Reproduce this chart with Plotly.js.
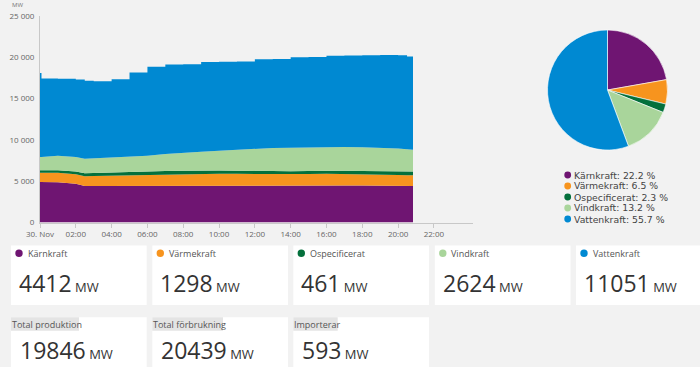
<!DOCTYPE html>
<html><head><meta charset="utf-8">
<script src="https://cdn.plot.ly/plotly-3.0.1.min.js"></script>
<style>html,body{margin:0;padding:0;background:#f2f2f2;}#chart{width:700px;height:367px;}</style>
</head><body><div id="chart"></div>
<script>
// ---- data ----
const day = '2023-11-30';
const times = ['00:00','00:05','01:00','02:00','02:30','03:00','04:00','05:00','06:00','07:00','08:00','09:00','10:00','11:00','12:00','13:00','14:00','15:00','16:00','17:00','18:00','19:00','20:00','20:30','20:50'];
const karnkraft   = [4890,4890,4880,4680,4420,4420,4430,4440,4450,4470,4480,4490,4490,4490,4490,4480,4480,4480,4480,4480,4470,4460,4450,4430,4412];
const varmekraft  = [1140,1140,1150,1170,1190,1200,1230,1290,1340,1370,1400,1420,1420,1400,1370,1350,1340,1380,1420,1400,1370,1350,1300,1290,1298];
const ospecificerat=[290,290,300,320,350,360,360,370,380,390,400,400,400,390,380,370,370,380,400,390,380,380,420,440,461];
const vindkraft   = [1610,1610,1750,1760,1750,1770,1800,1830,1900,2050,2170,2260,2380,2550,2700,2830,2860,2860,2840,2870,2880,2870,2790,2700,2624];
const vattenkraft = [10170,9510,9320,9370,9440,9350,9530,10240,10780,10860,10710,10850,10760,10650,10810,10750,10950,10950,11060,11090,11160,11220,11290,11240,11051];
const totalForbrukning = 20439;

const seriesNames = ['Kärnkraft','Värmekraft','Ospecificerat','Vindkraft','Vattenkraft'];
const seriesColors = ['#6f1572','#f7941e','#04703c','#a9d59b','#0089d2'];
const seriesData = [karnkraft, varmekraft, ospecificerat, vindkraft, vattenkraft];

const tickTimes = ['00:00','02:00','04:00','06:00','08:00','10:00','12:00','14:00','16:00','18:00','20:00','22:00'];
const tickLabels = ['30. Nov','02:00','04:00','06:00','08:00','10:00','12:00','14:00','16:00','18:00','20:00','22:00'];

// ---- helpers ----
const W = 700, H = 367;
const X = p => p / W;
const Y = p => (H - p) / H;

const xDates = times.map(t => day + ' ' + t);
const latest = seriesData.map(s => s[s.length - 1]);
const totalProd = latest.reduce((a, b) => a + b, 0);
const importerar = totalForbrukning - totalProd;

const traces = seriesData.map((s, i) => ({
  type: 'scatter', mode: 'lines', x: xDates, y: s, stackgroup: 'one',
  name: seriesNames[i], fillcolor: seriesColors[i],
  line: {width: 0, color: seriesColors[i], shape: i === 4 ? 'hv' : 'linear'},
  hoverinfo: 'skip', showlegend: false
}));

traces.push({
  type: 'pie', values: latest, labels: seriesNames, sort: false, direction: 'clockwise', rotation: 0,
  marker: {colors: seriesColors, line: {color: '#ffffff', width: 0.6}},
  textinfo: 'none', hoverinfo: 'skip', showlegend: false,
  domain: {x: [X(547.5), X(667.5)], y: [Y(150), Y(30)]}
});

const annotations = [];
const shapes = [];

annotations.push({xref:'paper', yref:'paper', x:X(17), y:Y(5), text:'MW', showarrow:false,
  font:{family:'Open Sans', size:6, color:'#777'}, xanchor:'center', yanchor:'middle'});

// pie legend
const legY = [175, 186, 197, 208, 219];
seriesNames.forEach((n, i) => {
  const pct = (latest[i] / totalProd * 100).toFixed(1);
  shapes.push({type:'circle', xref:'paper', yref:'paper', x0:X(564.3), x1:X(571.1), y0:Y(legY[i] + 3.4), y1:Y(legY[i] - 3.4),
    fillcolor:seriesColors[i], line:{width:0}});
  annotations.push({xref:'paper', yref:'paper', x:X(571.8), y:Y(legY[i]), xanchor:'left', yanchor:'middle', showarrow:false,
    text:n + ': ' + pct + ' %',
    font:{family:'DejaVu Sans', size:9.3, color:'#444'}});
});

// cards row 1
const row1X = [11, 152.3, 293.3, 434.8, 576];
const cardW = 135.7;
row1X.forEach((x0, i) => {
  shapes.push({type:'rect', xref:'paper', yref:'paper', x0:X(x0), x1:X(x0 + cardW), y0:Y(305), y1:Y(245.5),
    fillcolor:'#ffffff', line:{width:0}, layer:'below'});
  shapes.push({type:'circle', xref:'paper', yref:'paper', x0:X(x0 + 4.3), x1:X(x0 + 11.7), y0:Y(257), y1:Y(249.6),
    fillcolor:seriesColors[i], line:{width:0}});
  annotations.push({xref:'paper', yref:'paper', x:X(x0 + 14.5), y:Y(253.3), xanchor:'left', yanchor:'middle', showarrow:false,
    text:seriesNames[i], font:{family:'Open Sans', size:9, color:'#555'}});
  annotations.push({xref:'paper', yref:'paper', x:X(x0 + 6), y:Y(283), xanchor:'left', yanchor:'middle', showarrow:false,
    text:latest[i] + '<span style="font-size:13px"> MW</span>', font:{family:'Open Sans', size:23, color:'#333'}});
});

// cards row 2
const row2X = [11, 152.3, 293.3];
const row2Labels = ['Total produktion', 'Total förbrukning', 'Importerar'];
const row2Values = [totalProd, totalForbrukning, importerar];
const row2LabelW = [68, 70.7, 44.4];
row2X.forEach((x0, i) => {
  shapes.push({type:'rect', xref:'paper', yref:'paper', x0:X(x0), x1:X(x0 + cardW), y0:Y(375), y1:Y(317.3),
    fillcolor:'#ffffff', line:{width:0}, layer:'below'});
  shapes.push({type:'rect', xref:'paper', yref:'paper', x0:X(x0), x1:X(x0 + row2LabelW[i]), y0:Y(330.7), y1:Y(317.3),
    fillcolor:'#e4e4e4', line:{width:0}, layer:'below'});
  annotations.push({xref:'paper', yref:'paper', x:X(x0 - 1), y:Y(324.5), xanchor:'left', yanchor:'middle', showarrow:false,
    text:row2Labels[i], font:{family:'Open Sans', size:9, color:'#555'}});
  annotations.push({xref:'paper', yref:'paper', x:X(x0 + 7), y:Y(350.3), xanchor:'left', yanchor:'middle', showarrow:false,
    text:row2Values[i] + '<span style="font-size:13px"> MW</span>', font:{family:'Open Sans', size:23, color:'#333'}});
});

const layout = {
  width: W, height: H, margin: {l:0, r:0, t:0, b:0},
  paper_bgcolor: '#f2f2f2', plot_bgcolor: '#f2f2f2',
  separators: '. ', showlegend: false,
  font: {family: 'Open Sans', size: 8, color: '#666'},
  xaxis: {type:'date', domain:[X(40), X(472.7)], range:[day + ' 00:00', '2023-12-01 00:10'],
    tickvals: tickTimes.map(t => day + ' ' + t), ticktext: tickLabels,
    showgrid:false, zeroline:false, showline:true, linecolor:'#c8c8c8', linewidth:1,
    ticks:'outside', ticklen:4, tickcolor:'#c8c8c8', tickfont:{family:'Open Sans', size:8, color:'#666'}},
  yaxis: {domain:[Y(222.5), Y(16)], range:[0, 25000], tickvals:[0,5000,10000,15000,20000,25000], tickformat:',d',
    showgrid:false, zeroline:false, showline:true, linecolor:'#c8c8c8', linewidth:1,
    ticks:'outside', ticklen:3, tickcolor:'rgba(0,0,0,0)', tickfont:{family:'Open Sans', size:8, color:'#666'}},
  shapes: shapes, annotations: annotations
};

Plotly.newPlot('chart', traces, layout, {staticPlot: true, displayModeBar: false});
</script></body></html>
